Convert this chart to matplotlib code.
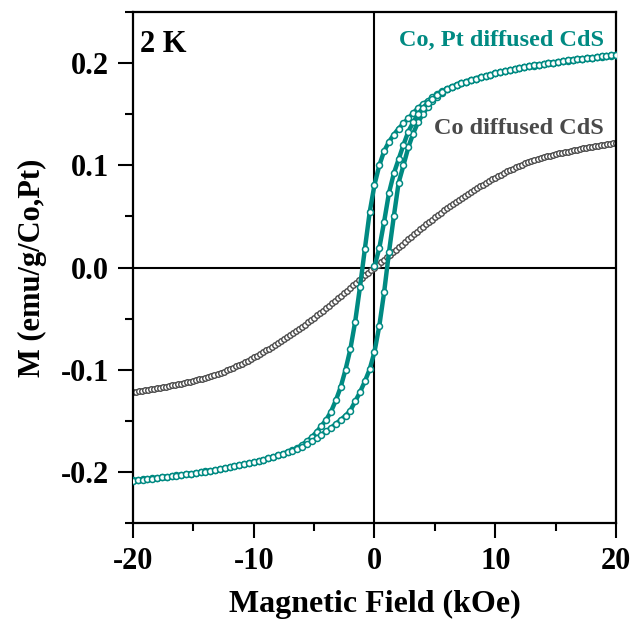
import numpy as np
import matplotlib
matplotlib.use("Agg")
import matplotlib.pyplot as plt
from matplotlib.ticker import MultipleLocator

plt.rcParams['font.family'] = ['Liberation Serif', 'DejaVu Serif']
plt.rcParams['font.weight'] = 'bold'
plt.rcParams['axes.unicode_minus'] = False

# Co, Pt diffused CdS: field sweeps with 0.4 kOe step
field_down = np.linspace(20, -20, 101)
m_down = [
    0.2080, 0.2075, 0.2070, 0.2065, 0.2060, 0.2055, 0.2050, 0.2044, 0.2038, 0.2032,
    0.2026, 0.2020, 0.2013, 0.2006, 0.1999, 0.1992, 0.1985, 0.1977, 0.1969, 0.1960,
    0.1951, 0.1942, 0.1932, 0.1922, 0.1911, 0.1900, 0.1888, 0.1876, 0.1863, 0.1849,
    0.1835, 0.1820, 0.1803, 0.1786, 0.1768, 0.1748, 0.1725, 0.1700, 0.1665, 0.1630,
    0.1600, 0.1560, 0.1510, 0.1460, 0.1410, 0.1360, 0.1300, 0.1230, 0.1140, 0.1000,
    0.0810,
    0.0540, 0.0180, -0.0190, -0.0530, -0.0800, -0.1000, -0.1170, -0.1300, -0.1410, -0.1490,
    -0.1550, -0.1610, -0.1660, -0.1700, -0.1735, -0.1766, -0.1787, -0.1805, -0.1822, -0.1838,
    -0.1852, -0.1866, -0.1879, -0.1891, -0.1903, -0.1914, -0.1925, -0.1935, -0.1945, -0.1954,
    -0.1963, -0.1972, -0.1980, -0.1988, -0.1995, -0.2002, -0.2009, -0.2016, -0.2023, -0.2029,
    -0.2035, -0.2041, -0.2047, -0.2053, -0.2058, -0.2063, -0.2068, -0.2073, -0.2078, -0.2083,
]

field_up = np.linspace(-20, 20, 101)
m_up = [
    -0.2085, -0.2080, -0.2075, -0.2070, -0.2065, -0.2060, -0.2054, -0.2048, -0.2042, -0.2036,
    -0.2030, -0.2024, -0.2017, -0.2010, -0.2003, -0.1996, -0.1989, -0.1981, -0.1973, -0.1964,
    -0.1955, -0.1946, -0.1936, -0.1926, -0.1915, -0.1904, -0.1892, -0.1880, -0.1867, -0.1853,
    -0.1839, -0.1824, -0.1808, -0.1791, -0.1772, -0.1752, -0.1728, -0.1702, -0.1670, -0.1636,
    -0.1602, -0.1568, -0.1530, -0.1490, -0.1450, -0.1400, -0.1310, -0.1220, -0.1115, -0.0996,
    -0.0825,
    -0.0570, -0.0240, 0.0150, 0.0500, 0.0830, 0.1000, 0.1175, 0.1310, 0.1420, 0.1500,
    0.1570, 0.1625, 0.1670, 0.1710, 0.1742, 0.1765, 0.1785, 0.1802, 0.1819, 0.1834,
    0.1848, 0.1862, 0.1875, 0.1887, 0.1899, 0.1910, 0.1921, 0.1931, 0.1941, 0.1950,
    0.1959, 0.1968, 0.1976, 0.1984, 0.1991, 0.1998, 0.2005, 0.2012, 0.2019, 0.2025,
    0.2031, 0.2037, 0.2043, 0.2049, 0.2054, 0.2059, 0.2064, 0.2069, 0.2074, 0.2079,
]

field_virgin = np.linspace(0, 20, 51)
m_virgin = [
    0.0010, 0.0190, 0.0450, 0.0730, 0.0920, 0.1060, 0.1200, 0.1330, 0.1420, 0.1500,
    0.1560, 0.1610, 0.1650, 0.1685, 0.1718, 0.1745, 0.1767, 0.1786, 0.1803,
    0.1820, 0.1835, 0.1849, 0.1863, 0.1876, 0.1888, 0.1900, 0.1911, 0.1922, 0.1932,
    0.1942, 0.1951, 0.1960, 0.1969, 0.1977, 0.1985, 0.1992, 0.1999, 0.2006, 0.2013,
    0.2020, 0.2026, 0.2032, 0.2038, 0.2044, 0.2050, 0.2055, 0.2060, 0.2065, 0.2070,
    0.2075, 0.2080,
]

# Co diffused CdS: 0.25 kOe step, no hysteresis
field_co = np.linspace(-20, 20, 161)
m_co = [
    -0.1220, -0.1215, -0.1210, -0.1205, -0.1200, -0.1195, -0.1190, -0.1185, -0.1180, -0.1175,
    -0.1170, -0.1165, -0.1160, -0.1154, -0.1148, -0.1141, -0.1135, -0.1129, -0.1123, -0.1116,
    -0.1110, -0.1103, -0.1095, -0.1088, -0.1080, -0.1070, -0.1060, -0.1050, -0.1040, -0.1029,
    -0.1018, -0.1006, -0.0995, -0.0981, -0.0968, -0.0954, -0.0940, -0.0925, -0.0910, -0.0895,
    -0.0880, -0.0863, -0.0845, -0.0828, -0.0810, -0.0793, -0.0775, -0.0758, -0.0740, -0.0720,
    -0.0700, -0.0680, -0.0660, -0.0640, -0.0620, -0.0600, -0.0580, -0.0558, -0.0535, -0.0513,
    -0.0490, -0.0468, -0.0445, -0.0423, -0.0400, -0.0375, -0.0350, -0.0325, -0.0300, -0.0275,
    -0.0250, -0.0225, -0.0200, -0.0175, -0.0150, -0.0125, -0.0100, -0.0075, -0.0050, -0.0025,
    0.0000,
    0.0025, 0.0050, 0.0075, 0.0100, 0.0125, 0.0150, 0.0175, 0.0200, 0.0225, 0.0250,
    0.0275, 0.0300, 0.0325, 0.0350, 0.0375, 0.0400, 0.0423, 0.0445, 0.0468, 0.0490,
    0.0513, 0.0535, 0.0558, 0.0580, 0.0600, 0.0620, 0.0640, 0.0660, 0.0680, 0.0700,
    0.0720, 0.0740, 0.0758, 0.0775, 0.0793, 0.0810, 0.0828, 0.0845, 0.0863, 0.0880,
    0.0895, 0.0910, 0.0925, 0.0940, 0.0954, 0.0968, 0.0981, 0.0995, 0.1006, 0.1018,
    0.1029, 0.1040, 0.1050, 0.1060, 0.1070, 0.1080, 0.1088, 0.1095, 0.1103, 0.1110,
    0.1116, 0.1123, 0.1129, 0.1135, 0.1141, 0.1148, 0.1154, 0.1160, 0.1165, 0.1170,
    0.1175, 0.1180, 0.1185, 0.1190, 0.1195, 0.1200, 0.1205, 0.1210, 0.1215, 0.1220,
]

teal = '#008a82'
grey = '#4a4a4a'

fig = plt.figure(figsize=(6.32, 6.23), dpi=100)
ax = fig.add_axes([0.2104, 0.1605, 0.7643, 0.8202])

ax.axhline(0, color='black', lw=1.5, zorder=1)
ax.axvline(0, color='black', lw=1.5, zorder=1)

ax.plot(field_co, m_co, ls='none', marker='o', ms=4.0, mfc='white', mec=grey, mew=1.0, zorder=2)
for h, m in [(field_down, m_down), (field_up, m_up), (field_virgin, m_virgin)]:
    ax.plot(h, m, color=teal, lw=3.2, marker='o', ms=4.3, mfc='white', mec=teal, mew=1.1, zorder=3)

ax.set_xlim(-20, 20)
ax.set_ylim(-0.25, 0.25)
ax.xaxis.set_major_locator(MultipleLocator(10))
ax.xaxis.set_minor_locator(MultipleLocator(5))
ax.yaxis.set_major_locator(MultipleLocator(0.1))
ax.yaxis.set_minor_locator(MultipleLocator(0.05))
ax.yaxis.set_major_formatter(plt.FuncFormatter(lambda v, p: f"{v:.1f}"))
ax.tick_params(which='both', direction='out', width=1.5, labelsize=22, pad=6)
ax.tick_params(which='major', length=11)
ax.tick_params(which='minor', length=6)
for s in ax.spines.values():
    s.set_linewidth(1.6)

ax.set_xlabel("Magnetic Field (kOe)", fontsize=23, fontweight='bold', labelpad=10)
ax.set_ylabel("M (emu/g/Co,Pt)", fontsize=22, fontweight='bold', labelpad=10)

ax.text(0.015, 0.965, "2 K", transform=ax.transAxes, fontsize=22, fontweight='bold', va='top', ha='left')
ax.text(0.975, 0.945, "Co, Pt diffused CdS", transform=ax.transAxes, fontsize=17.5,
        fontweight='bold', color=teal, ha='right', va='center')
ax.text(0.975, 0.773, "Co diffused CdS", transform=ax.transAxes, fontsize=17.5,
        fontweight='bold', color=grey, ha='right', va='center')

fig.savefig("out.png", dpi=100)
